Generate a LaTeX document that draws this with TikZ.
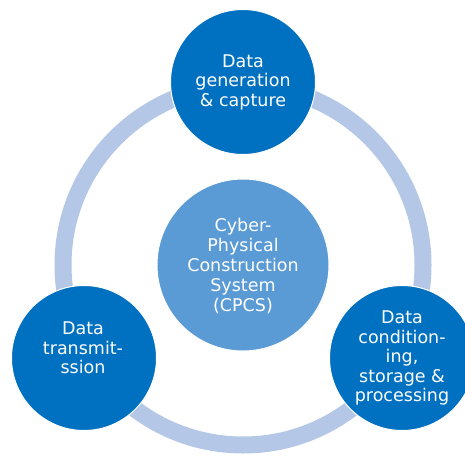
\documentclass[tikz,border=0pt]{standalone}
\usepackage{fontspec}
\setmainfont{DejaVu Sans}
\definecolor{darkblue}{HTML}{0070C0}
\definecolor{midblue}{HTML}{5B9BD5}
\definecolor{ringblue}{HTML}{B4C7E7}
\begin{document}
\begin{tikzpicture}[x=1pt,y=-1pt,
  phase/.style={circle, fill=darkblue, draw=white, line width=1pt, minimum size=145pt, inner sep=0pt},
  core/.style={circle, fill=midblue, draw=white, line width=1pt, minimum size=172pt, inner sep=0pt},
  caption/.style={text=white, align=center, inner sep=0pt,
    font=\fontsize{17.5}{19.5}\selectfont}]
  \useasboundingbox (0,0) rectangle (465,455);
  % outer cycle ring
  \coordinate (hub) at (243,265);
  \draw[ringblue, line width=17pt] (hub) circle[radius=180];
  % central system
  \node[core] (cpcs) at (hub) {};
  \node[caption, font=\fontsize{17.5}{20.2}\selectfont] (cpcsText) at (243,266) {Cyber-\\Physical\\Construction\\System\\(CPCS)};
  % three phases around the ring
  \node[phase] (gen) at (243,82) {};
  \node[caption] (genText) at (243,82) {Data\\generation\\\& capture};
  \node[phase] (trans) at (84,358) {};
  \node[caption] (transText) at (83,348) {Data\\transmit-\\ssion};
  \node[phase] (cond) at (402,358) {};
  \node[caption] (condText) at (402,358) {Data\\condition-\\ing,\\storage \&\\processing};
\end{tikzpicture}
\end{document}
